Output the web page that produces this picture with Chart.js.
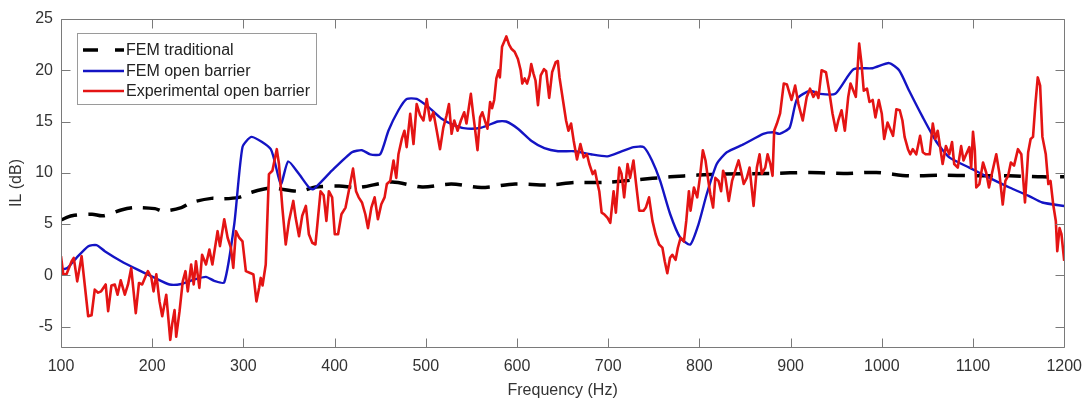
<!DOCTYPE html>
<html><head><meta charset="utf-8">
<script src="https://cdn.jsdelivr.net/npm/chart.js@4.4.1/dist/chart.umd.min.js"></script>
<style>html,body{margin:0;padding:0;background:#fff;}#wrap{width:1092px;height:401px;}</style>
</head><body><div id="wrap"><canvas id="c" width="1092" height="401"></canvas></div>
<script>
const xTicks = [100,200,300,400,500,600,700,800,900,1000,1100,1200];
const yTicks = [-5,0,5,10,15,20,25];
const seriesLabels = ['FEM traditional','FEM open barrier','Experimental open barrier'];

const femTradFreq = [100,112,134,146,166,181,203,212,232,243,265,275,295,308,330,361,379,405,426,463,496,528,561,598,634,663,696,729,768,798,827,878,921,958,994,1030,1067,1103,1140,1176,1200];
const femTradIL = [5.4,5.8,5.95,5.8,6.37,6.6,6.5,6.27,6.6,7.1,7.5,7.45,7.6,8.07,8.5,8.2,8.6,8.7,8.56,9.1,8.6,8.9,8.56,8.9,8.8,9.05,9.05,9.3,9.6,9.77,9.87,9.93,10.03,9.93,10.03,9.7,9.77,9.7,9.7,9.6,9.6];

const femOpenFreq = [100,107,117,130,139,148,166,184,203,219,232,246,259,268,279,290,299,309,330,341,349,361,372,377,397,419,430,439,450,459,470,479,490,503,517,532,546,561,579,588,601,616,630,645,663,681,699,714,728,739,748,757,768,779,790,799,808,819,830,849,870,881,888,899,907,921,932,949,969,990,1008,1019,1030,1045,1060,1074,1096,1118,1140,1161,1176,1200];
const femOpenIL = [0.55,0.7,1.7,2.84,2.94,2.35,1.37,0.55,-0.26,-0.9,-0.85,-0.42,-0.16,-0.55,-0.7,5.0,12.5,13.5,12.3,8.9,11.1,9.87,8.56,8.4,10.2,12.0,12.2,11.8,11.8,14.1,16.1,17.2,17.2,16.4,15.3,14.6,14.3,14.4,15.0,15.0,14.3,13.1,12.4,12.1,12.1,11.8,11.6,12.06,12.5,12.5,11.2,9.2,5.95,3.66,3.0,4.97,7.9,10.85,12.0,12.8,13.8,13.95,13.8,14.4,17.2,18.0,17.7,17.7,20.1,20.2,20.7,20.0,18.0,15.4,13.0,11.5,10.5,9.5,8.56,7.75,7.1,6.76];

const expFreq = [100,102.5,106,111.7,114,117.8,122.6,129.8,133.5,137,140.7,144,149,151.7,155.3,159,162,165.5,170,173.5,177,182,185.5,189,192.8,195.3,199,201.5,204.5,208,211,215.4,219.8,222,224.5,226.3,230,233.5,236.5,239,242.7,245.5,248,251.7,254.7,259,262.7,266,271.7,274.3,279,282.7,286.3,288.9,291.8,295.4,299,302.7,308,311,314.3,317.2,319,321,324.5,328,331.8,336.6,339,342.7,346.4,350,354.7,357.3,361,364.5,368.5,371.8,375.5,379,384.6,388,391,393.7,397.3,400.2,403.8,407.5,412,415.5,420.2,423.5,426.4,430,433.7,436.6,440.3,443.9,447.5,451.2,454.8,457.3,461,464.6,467.6,470,473.7,476.6,479,482.9,486.5,490,493.8,497.4,501,504.7,508.3,512,515.6,519.2,522.8,525.4,528.3,531.2,534.8,538.5,542.1,544.6,549.4,551.9,553.8,556.7,559.5,562,564.7,567.6,570.5,572.7,575,577.4,580,581.2,583.6,588.3,591.3,593.8,597.4,601,604,605.8,608.4,611,613.8,615.6,618,620.3,623,626,629.6,632,635.3,638.5,642.5,644.8,646.6,650.2,653.8,656.4,659.3,662.2,665.8,669.5,673.1,676.7,679.3,683,685.5,688.4,690.2,692.8,695.7,699.3,702.3,705.9,708.4,712.1,714.6,717.5,721.2,724,727.7,730.6,734,738.8,741.3,744.8,748.5,752,755.8,759.4,762,764.8,767.8,770.3,773.9,776.4,779.4,783,785.6,788.5,790.3,794,797.6,800.5,803.8,806.7,809.3,812,815,817.5,821,823.8,826,828.5,832.2,835.8,839.4,843,845.6,848.6,852,855,859.4,863,866,868.4,872.2,874.8,877.7,880.2,882,885,888.5,892.5,896,901,905,908.6,913.3,917.7,921.3,925,928,930.5,934,938.8,942.4,946,949.7,952.3,955.9,959.5,963.2,965.7,969.3,971.5,975.2,977.7,980.2,983.8,986.5,990,993,996.7,1000,1002.6,1006.3,1010,1012.3,1016,1019.7,1022.6,1025,1028.7,1031.2,1034,1037.8,1042,1045,1048,1052.5,1055.9,1058.7,1061.3,1063.8,1066.7,1070.3,1074,1077,1079.4,1083.3,1087,1089.6,1092.5,1096,1098,1100,1102,1103.6,1107,1111,1114.5,1117.5,1120.7,1125.5,1129,1132.6,1135.5,1138.5,1141.5,1145,1149.3,1153,1157,1160.5,1163.2,1165.8,1168.4,1171,1173.6,1176.1,1179.8,1182.6,1185,1187.9,1190.8,1192.4,1194.9,1197,1200];
const expIL = [1.86,0.1,0.1,1.37,1.7,-0.6,1.86,-4.0,-3.9,-1.4,-1.7,-1.57,-0.9,-3.5,-1.0,-0.9,-1.9,-0.5,-1.9,-0.9,0.7,-3.7,-0.75,-0.9,-0.1,0.4,-0.2,-1.57,0.1,-2.55,-4.0,-1.9,-6.3,-4.7,-3.4,-6.0,-3.5,-0.6,0.4,-1.57,1.05,-0.9,1.37,-1.24,2.0,1.05,2.5,1.05,4.3,2.84,5.46,3.66,2.68,0.72,4.3,3.66,3.3,0.4,0.2,0.07,-2.55,-1.24,-0.26,-1.0,1.05,9.87,10.2,12.3,10.85,6.6,3.0,5.3,7.25,5.6,3.8,5.8,6.76,4.0,3.17,3.0,8.2,7.8,5.3,8.2,7.6,4.0,4.0,5.95,6.6,8.2,10.4,8.2,7.6,7.1,5.95,4.6,6.6,7.6,5.46,6.93,7.6,8.9,9.2,11.2,9.5,11.8,13.3,14.1,12.5,15.75,12.8,16.7,15.6,15.1,17.2,15.1,15.9,14.1,12.3,14.4,15.6,16.7,13.8,15.1,14.1,15.1,15.9,14.8,17.7,15.75,14.4,12.2,15.4,15.9,15.1,14.3,16.9,16.3,17.1,19.2,20.0,19.3,22.3,23.3,22.5,22.1,21.8,21.1,20.0,18.7,19.2,18.7,19.5,20.6,19.7,19.0,16.6,19.5,20.1,19.9,17.3,19.8,20.8,20.9,19.3,17.2,15.1,14.1,14.8,13.1,11.3,12.8,11.5,11.8,10.85,9.87,10.2,8.9,8.2,6.1,5.95,5.6,5.1,8.2,6.1,10.5,9.9,7.6,10.85,9.5,11.2,8.9,6.3,6.3,6.6,7.6,5.3,4.0,3.0,2.7,1.37,0.2,1.7,2.0,1.5,2.68,3.66,3.3,5.3,8.2,6.3,8.56,7.6,9.5,12.2,11.2,9.5,7.9,6.6,9.5,9.2,8.2,10.2,9.5,7.25,9.2,10.2,11.2,10.2,8.9,9.5,10.5,6.76,10.5,11.8,9.9,10.5,11.8,10.9,9.7,14.1,14.8,15.8,18.7,18.6,17.1,18.5,16.7,15.1,17.4,18.2,17.4,17.9,17.3,20.0,19.8,17.9,15.75,14.1,15.1,16.1,14.1,17.4,18.7,17.9,17.4,22.6,20.7,18.0,18.2,16.9,17.1,15.4,17.1,15.75,13.3,14.9,14.1,13.6,16.2,16.1,15.1,13.5,12.3,11.8,12.3,11.8,13.6,12.0,11.8,11.8,14.8,13.3,14.1,12.6,10.85,12.6,11.8,13.0,10.85,10.5,12.6,11.2,11.8,12.5,10.5,14.0,12.2,8.56,8.9,11.0,10.0,8.56,9.9,11.8,9.9,6.9,9.2,9.7,11.0,10.7,12.3,11.8,7.1,12.0,13.3,13.5,16.7,19.3,18.5,13.5,11.8,8.9,9.2,6.93,5.3,2.35,4.6,4.0,1.4];

const pts = (xs, ys) => xs.map((x, i) => ({x: x, y: ys[i]}));
const FONT = "'Liberation Sans', Arial, Helvetica, sans-serif";
const TXT = '#333333';
const AXIS = '#7a7a7a';

const boxPlugin = {
  id: 'boxTicks',
  afterDatasetsDraw(chart) {
    const ctx = chart.ctx, a = chart.chartArea;
    const xs = chart.scales.x, ys = chart.scales.y;
    ctx.save();
    ctx.strokeStyle = AXIS; ctx.lineWidth = 1; ctx.setLineDash([]);
    ctx.beginPath();
    const L = Math.round(a.left) + 0.5, R = Math.round(a.right) + 0.5, T = Math.round(a.top) + 0.5, B = Math.round(a.bottom) + 0.5;
    ctx.rect(L, T, R - L, B - T);
    const tl = 9;
    xs.ticks.forEach(t => {
      const px = Math.round(xs.getPixelForValue(t.value)) + 0.5;
      ctx.moveTo(px, B); ctx.lineTo(px, B - tl);
      ctx.moveTo(px, T); ctx.lineTo(px, T + tl);
    });
    ys.ticks.forEach(t => {
      const py = Math.round(ys.getPixelForValue(t.value)) + 0.5;
      ctx.moveTo(L, py); ctx.lineTo(L + tl, py);
      ctx.moveTo(R, py); ctx.lineTo(R - tl, py);
    });
    ctx.stroke();

    // legend
    const lx = 77.5, ly = 33.5, lw = 239, lh = 71;
    ctx.fillStyle = '#ffffff';
    ctx.fillRect(lx, ly, lw, lh);
    ctx.strokeStyle = '#9a9a9a';
    ctx.strokeRect(lx, ly, lw, lh);
    const rows = [50, 71, 91];
    ctx.font = '16px ' + FONT;
    ctx.textBaseline = 'middle';
    ctx.textAlign = 'left';
    chart.data.datasets.forEach((ds, i) => {
      const y = rows[i];
      ctx.strokeStyle = ds.borderColor;
      ctx.lineWidth = ds.borderWidth;
      ctx.setLineDash([]);
      ctx.lineCap = 'butt';
      ctx.beginPath();
      if (ds.borderDash && ds.borderDash.length) {
        ctx.moveTo(83, y); ctx.lineTo(98, y);
        ctx.moveTo(115, y); ctx.lineTo(124, y);
      } else {
        ctx.moveTo(83, y); ctx.lineTo(124, y);
      }
      ctx.stroke();
      ctx.fillStyle = '#222222';
      ctx.fillText(ds.label, 126, y + 1);
    });
    ctx.restore();
  }
};

new Chart(document.getElementById('c'), {
  type: 'line',
  data: {
    datasets: [
      { label: seriesLabels[0], data: pts(femTradFreq, femTradIL), borderColor: '#000000', borderWidth: 3.5, borderDash: [17, 11], pointRadius: 0, tension: 0.3, order: 2 },
      { label: seriesLabels[1], data: pts(femOpenFreq, femOpenIL), borderColor: '#1414c4', borderWidth: 2.4, pointRadius: 0, tension: 0.2, order: 1 },
      { label: seriesLabels[2], data: pts(expFreq, expIL), borderColor: '#e41414', borderWidth: 2.6, pointRadius: 0, tension: 0, borderJoinStyle: 'round', order: 0 }
    ]
  },
  options: {
    responsive: false,
    animation: false,
    devicePixelRatio: 1,
    layout: { padding: { left: 0, top: 19, right: 24, bottom: 0 } },
    plugins: { legend: { display: false }, tooltip: { enabled: false } },
    scales: {
      x: {
        type: 'linear', min: 100, max: 1200,
        afterBuildTicks: s => { s.ticks = xTicks.map(v => ({ value: v })); },
        afterFit: s => { s.height = 54; },
        grid: { display: false, drawTicks: false },
        border: { display: false },
        ticks: { font: { size: 16, family: FONT }, color: TXT, padding: 10, maxRotation: 0, autoSkip: false, callback: v => String(v) },
        title: { display: true, text: 'Frequency (Hz)', font: { size: 16, family: FONT }, color: TXT, padding: { top: 0, bottom: 1 } }
      },
      y: {
        type: 'linear', min: -7, max: 25,
        afterBuildTicks: s => { s.ticks = yTicks.map(v => ({ value: v })); },
        afterFit: s => { s.width = 61; },
        grid: { display: false, drawTicks: false },
        border: { display: false },
        ticks: { font: { size: 16, family: FONT }, color: TXT, padding: 8, callback: v => String(v) },
        title: { display: true, text: 'IL (dB)', font: { size: 16, family: FONT }, color: TXT, padding: { top: 7, bottom: 0 } }
      }
    }
  },
  plugins: [boxPlugin]
});
</script>
</body></html>
